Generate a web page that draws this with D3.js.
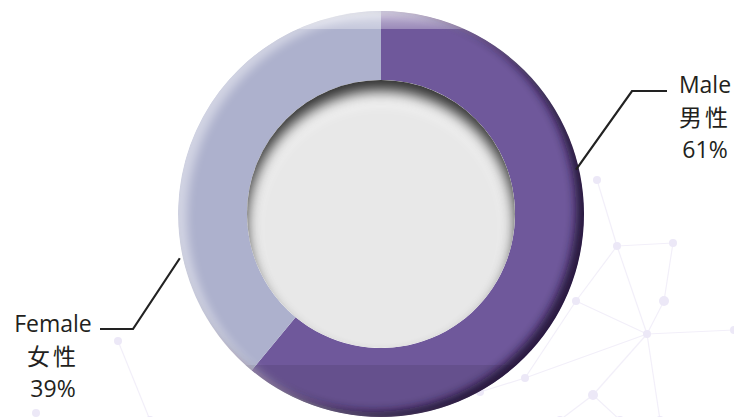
<!DOCTYPE html>
<html><head><meta charset="utf-8">
<script src="https://cdn.jsdelivr.net/npm/d3@7"></script>
<style>html,body{margin:0;padding:0;background:#fff;overflow:hidden}</style>
</head><body>
<svg id="c" width="734" height="417"></svg>
<script>
const categories = ["Male", "Female"];
const categoriesZh = ["男性", "女性"];
const values = [61, 39];
const colors = ["#6f589b", "#adb1cd"];

const W = 734, H = 417;
const cx = 381, cy = 214, R = 203, r = 134;
const svg = d3.select("#c");
const defs = svg.append("defs");

defs.append("filter").attr("id","blur5").attr("x","-30%").attr("y","-30%").attr("width","160%").attr("height","160%")
  .append("feGaussianBlur").attr("stdDeviation",5);
defs.append("filter").attr("id","blur7").attr("x","-30%").attr("y","-30%").attr("width","160%").attr("height","160%")
  .append("feGaussianBlur").attr("stdDeviation",7);
defs.append("filter").attr("id","blur8").attr("x","-30%").attr("y","-30%").attr("width","160%").attr("height","160%")
  .append("feGaussianBlur").attr("stdDeviation",8);
defs.append("clipPath").attr("id","outerClip").append("circle").attr("cx",0).attr("cy",0).attr("r",R);
defs.append("clipPath").attr("id","innerClip").append("circle").attr("cx",0).attr("cy",0).attr("r",r);
const tg = defs.append("linearGradient").attr("id","topBand").attr("x1",0).attr("x2",0).attr("y1",0).attr("y2",1);
tg.append("stop").attr("offset","0%").attr("stop-color","#fff").attr("stop-opacity",0.6);
tg.append("stop").attr("offset","100%").attr("stop-color","#fff").attr("stop-opacity",0.3);

// faint network background (decorative)
const bgNodes = [[617,246],[576,301],[647,334],[525,378],[593,395],[664,301],[673,243],[597,180],[480,392],[560,420],[620,420],[660,420],[734,330],[118,341],[36,413],[150,420]];
const bgLinks = [[0,1],[0,2],[1,2],[2,3],[2,4],[3,8],[0,6],[0,7],[5,6],[2,5],[4,9],[4,10],[2,11],[2,12],[1,3],[13,15]];
const bg = svg.append("g");
bg.selectAll("line").data(bgLinks).join("line")
  .attr("x1",d=>bgNodes[d[0]][0]).attr("y1",d=>bgNodes[d[0]][1])
  .attr("x2",d=>bgNodes[d[1]][0]).attr("y2",d=>bgNodes[d[1]][1])
  .attr("stroke","#f2eff9").attr("stroke-width",1.2);
bg.selectAll("circle").data(bgNodes).join("circle")
  .attr("cx",d=>d[0]).attr("cy",d=>d[1]).attr("r",(d,i)=>i===4||i===5?5:4)
  .attr("fill","#ece8f7");

const g = svg.append("g").attr("transform",`translate(${cx},${cy})`);
const pie = d3.pie().sort(null).value(d=>d);
const arcs = pie(values);
const arc = d3.arc().innerRadius(r).outerRadius(R);

const ring = g.append("g").attr("clip-path","url(#outerClip)");
ring.selectAll("path.slice").data(arcs).join("path").attr("class","slice")
  .attr("d",arc).attr("fill",(d,i)=>colors[i]);
// top lighter band
ring.append("rect").attr("x",-R).attr("y",-R).attr("width",2*R).attr("height",(29-cy)+R)
  .attr("fill","url(#topBand)");
// bottom darker band
ring.append("rect").attr("x",-R).attr("y",365-cy).attr("width",2*R).attr("height",R)
  .attr("fill","#000").attr("opacity",0.09);
// edge shading: dark on right/bottom, light on left
ring.append("circle").attr("cx",-8).attr("cy",-5).attr("r",R+30)
  .attr("fill","none").attr("stroke","#1a0d2e").attr("stroke-width",60)
  .attr("filter","url(#blur5)").attr("opacity",0.85);
ring.append("circle").attr("cx",9).attr("cy",3).attr("r",R+30)
  .attr("fill","none").attr("stroke","#fff").attr("stroke-width",60)
  .attr("filter","url(#blur5)").attr("opacity",0.45);

// inner recessed circle
const inner = g.append("g").attr("clip-path","url(#innerClip)");
inner.append("circle").attr("r",r).attr("fill","#e8e8e8");
inner.append("circle").attr("cx",0).attr("cy",16).attr("r",r+10)
  .attr("fill","none").attr("stroke","#fff").attr("stroke-width",30)
  .attr("filter","url(#blur8)").attr("opacity",0.85);
inner.append("circle").attr("cx",0).attr("cy",11).attr("r",r+30)
  .attr("fill","none").attr("stroke","#000").attr("stroke-width",60)
  .attr("filter","url(#blur7)").attr("opacity",0.8);

// leader lines + labels
const labelAngles = [77.2 * Math.PI/180, -102.4 * Math.PI/180];
const labelSpec = [
  {elbow:[632,91], end:[667,91], tx:705, ty:93, edge: R-3},
  {elbow:[133,329], end:[100,329], tx:53, ty:332, edge: R+3}
];
categories.forEach((c,i)=>{
  const a = labelAngles[i], s = labelSpec[i];
  const p0 = [cx + s.edge*Math.sin(a), cy - s.edge*Math.cos(a)];
  svg.append("path")
    .attr("d", d3.line()([p0, s.elbow, s.end]))
    .attr("fill","none").attr("stroke","#222").attr("stroke-width",2.2);
  const t = svg.append("text").attr("text-anchor","middle").attr("fill","#231f20")
    .attr("font-family","'Open Sans','Noto Sans','Noto Sans CJK SC',sans-serif").attr("font-size",23);
  const lines = [c, categoriesZh[i], values[i] + "%"];
  lines.forEach((l,j)=>{
    t.append("tspan").attr("x",s.tx).attr("y",s.ty + j*32.5).text(l)
      .attr("font-family", j===1 ? "'Noto Sans CJK SC',sans-serif" : null)
      .attr("letter-spacing", j===1 ? 3 : null);
  });
});
</script>
</body></html>
